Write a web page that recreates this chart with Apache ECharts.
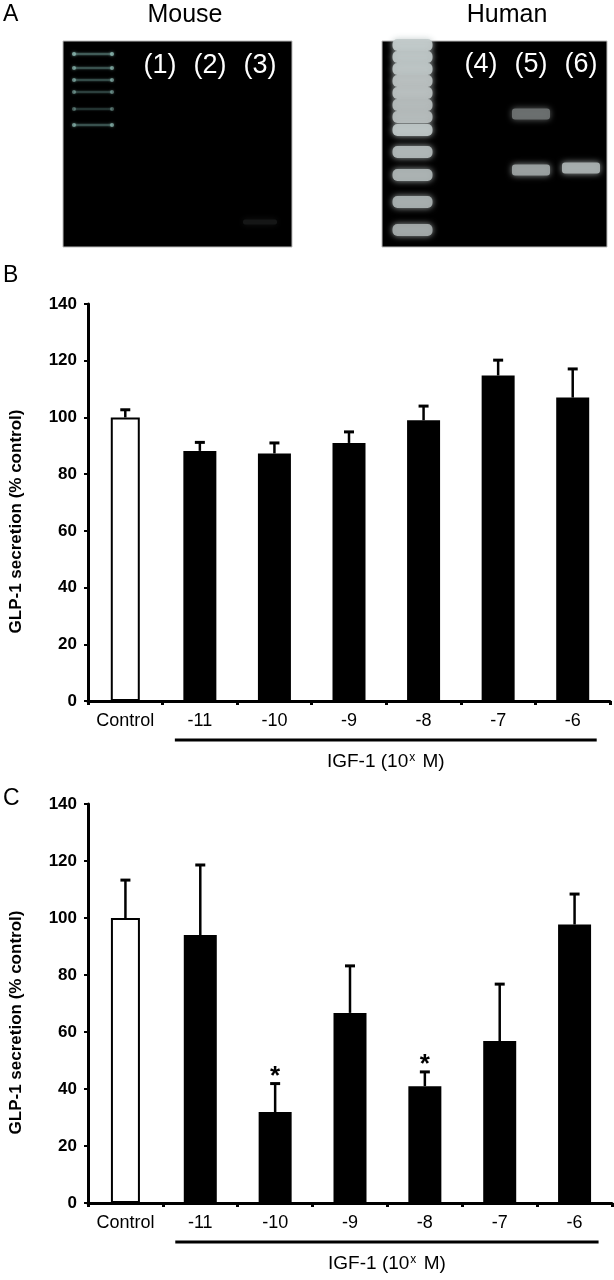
<!DOCTYPE html>
<html><head><meta charset="utf-8">
<script src="https://cdn.jsdelivr.net/npm/echarts@6/dist/echarts.min.js"></script>
<style>html,body{margin:0;padding:0;background:#fff}#c{width:614px;height:1280px}</style>
</head><body><div id="c"></div>
<script>
// ---------- data ----------
const categories = ['Control', '-11', '-10', '-9', '-8', '-7', '-6'];
const meanB = [100, 88.2, 87.3, 91.0, 99.0, 114.8, 107.0];
const errB  = [2.7, 3.0, 3.7, 3.9, 5.0, 5.4, 10.1];
const meanC = [100, 94.0, 31.9, 66.7, 41.0, 56.8, 97.7];
const errC  = [13.3, 24.6, 10.0, 16.5, 5.0, 20.0, 10.7];
const sigC  = ['', '', '*', '', '*', '', ''];
const yMin = 0, yMax = 140, yStep = 20;
const yTitle = 'GLP-1 secretion (% control)';

// gel: lane positions (lane units) and bands [lane, migration, intensity]
const mouseLaneNames = ['(1)', '(2)', '(3)'];
const mouseLanePos = [1.94, 2.94, 3.94];
const mouseLadderPos = 0.6;
const mouseLadder = [13, 27, 39, 51, 68, 84];
const mouseLadderIntensity = [0.8, 0.7, 0.65, 0.55, 0.45, 0.7];
const mouseSamples = [[3.94, 181, 0.1]];
const humanLaneNames = ['(4)', '(5)', '(6)'];
const humanLanePos = [1.98, 2.98, 3.98];
const humanLadderPos = 0.61;
const humanLadder = [4, 16, 28, 40, 52, 64, 76, 89, 111, 134, 161, 189];
const humanLadderIntensity = [0.9, 0.88, 0.88, 0.86, 0.86, 0.84, 0.84, 0.88, 0.82, 0.8, 0.78, 0.76];
const humanSamples = [[2.98, 73, 0.5], [2.98, 129, 0.72], [3.98, 127, 0.78]];

const FONT = "'Liberation Sans', Arial, sans-serif";

const chart = echarts.init(document.getElementById('c'), null, {renderer: 'canvas'});

function grey(inten, tint) {
  const g = Math.round(215 * inten);
  return 'rgb(' + g + ',' + Math.min(255, Math.round(g * tint)) + ',' + Math.min(255, Math.round(g * tint)) + ')';
}
function gelBands(kind) {
  return function (params, api) {
    const c = api.coord([api.value(0), api.value(1)]);
    const inten = api.value(2);
    if (kind === 'mouseLadder') {
      const w = 38, h = 2.5;
      const col = 'rgba(95,135,130,' + (0.75 * inten) + ')';
      const dot = 'rgba(140,185,178,' + inten + ')';
      return {type: 'group', children: [
        {type: 'rect', shape: {x: c[0] - w / 2, y: c[1] - h / 2, width: w, height: h},
          style: {fill: col, shadowBlur: 3, shadowColor: col}},
        {type: 'circle', shape: {cx: c[0] - w / 2, cy: c[1], r: 2}, style: {fill: dot, shadowBlur: 3, shadowColor: dot}},
        {type: 'circle', shape: {cx: c[0] + w / 2, cy: c[1], r: 2}, style: {fill: dot, shadowBlur: 3, shadowColor: dot}}
      ]};
    }
    let w, h, r;
    if (kind === 'humanLadder') { w = 40; h = 12; r = 5; }
    else if (kind === 'mouseSample') { w = 34; h = 5; r = 2; }
    else { w = 38; h = 11; r = 3; }
    const col = grey(inten, 1.04);
    return {type: 'rect', shape: {x: c[0] - w / 2, y: c[1] - h / 2, width: w, height: h, r: r},
      style: {fill: col, shadowBlur: 6, shadowColor: col, opacity: 0.95}};
  };
}
function laneLabels(params, api) {
  const c = api.coord([api.value(0), api.value(1)]);
  return {type: 'text', x: c[0], y: c[1], style: {text: api.value(2), fill: '#fff',
    font: '27px ' + FONT, align: 'center', verticalAlign: 'middle'}};
}
function errBars(sig) {
  return function (params, api) {
    const i = api.value(0), m = api.value(1), e = api.value(2);
    const p0 = api.coord([i, m]);
    const p1 = api.coord([i, m + e]);
    const ch = [
      {type: 'line', shape: {x1: p0[0], y1: p0[1], x2: p1[0], y2: p1[1]}, style: {stroke: '#000', lineWidth: 2.5}},
      {type: 'line', shape: {x1: p1[0] - 5, y1: p1[1], x2: p1[0] + 5, y2: p1[1]}, style: {stroke: '#000', lineWidth: 3}}
    ];
    if (sig && sig[i]) {
      ch.push({type: 'text', x: p1[0], y: p1[1] - 7, style: {text: sig[i], fill: '#000',
        font: 'bold 26px ' + FONT, align: 'center', verticalAlign: 'middle'}});
    }
    return {type: 'group', children: ch};
  };
}

const gelGrid = {show: true, backgroundColor: '#000', borderColor: '#bbb', borderWidth: 1};
function gelX(idx, max) { return {type: 'value', gridIndex: idx, min: 0, max: max, show: false}; }
function gelY(idx) { return {type: 'value', gridIndex: idx, min: 0, max: 206, inverse: true, show: false}; }

function catAxis(gridIndex, show) {
  return {
    type: 'category', gridIndex: gridIndex, data: categories, show: show,
    axisLine: {lineStyle: {color: '#000', width: 3}},
    axisTick: {show: true, length: 4, lineStyle: {color: '#000', width: 3}},
    axisLabel: {color: '#000', fontSize: 18, fontFamily: FONT, margin: 11, interval: 0}
  };
}
function valAxis(gridIndex) {
  return {
    type: 'value', gridIndex: gridIndex, min: yMin, max: yMax, interval: yStep,
    splitLine: {show: false},
    axisLine: {show: true, lineStyle: {color: '#000', width: 3}},
    axisTick: {show: true, length: 4, lineStyle: {color: '#000', width: 2}},
    axisLabel: {color: '#000', fontSize: 17, fontWeight: 'bold', fontFamily: FONT, margin: 11},
    name: yTitle, nameLocation: 'middle', nameGap: 63,
    nameTextStyle: {color: '#000', fontSize: 17, fontWeight: 'bold', fontFamily: FONT, padding: [0, 38, 0, 0]}
  };
}
const ctrlOnly = arr => arr.map((v, i) => i === 0 ? v : '-');
const igfOnly = arr => arr.map((v, i) => i === 0 ? '-' : v);
const errData = (m, e) => m.map((v, i) => [i, v, e[i]]);

const option = {
  animation: false,
  grid: [
    Object.assign({left: 63, top: 41, width: 229, height: 206}, gelGrid),
    Object.assign({left: 382, top: 41, width: 225, height: 206}, gelGrid),
    {left: 82, right: 4, top: 304, height: 397},
    {left: 82, right: 2, top: 804, height: 399}
  ],
  xAxis: [
    gelX(0, 4.58), gelX(1, 4.5),
    catAxis(2, true), catAxis(2, false),
    catAxis(3, true), catAxis(3, false)
  ],
  yAxis: [gelY(0), gelY(1), valAxis(2), valAxis(3)],
  series: [
    {type: 'custom', xAxisIndex: 0, yAxisIndex: 0, renderItem: gelBands('mouseLadder'),
      data: mouseLadder.map((y, i) => [mouseLadderPos, y, mouseLadderIntensity[i]])},
    {type: 'custom', xAxisIndex: 0, yAxisIndex: 0, renderItem: gelBands('mouseSample'), data: mouseSamples},
    {type: 'custom', xAxisIndex: 0, yAxisIndex: 0, renderItem: laneLabels,
      data: mouseLaneNames.map((n, i) => [mouseLanePos[i], 25, n])},
    {type: 'custom', xAxisIndex: 1, yAxisIndex: 1, renderItem: gelBands('humanLadder'),
      data: humanLadder.map((y, i) => [humanLadderPos, y, humanLadderIntensity[i]])},
    {type: 'custom', xAxisIndex: 1, yAxisIndex: 1, renderItem: gelBands('humanSample'), data: humanSamples},
    {type: 'custom', xAxisIndex: 1, yAxisIndex: 1, renderItem: laneLabels,
      data: humanLaneNames.map((n, i) => [humanLanePos[i], 24, n])},

    {type: 'bar', xAxisIndex: 3, yAxisIndex: 2, data: ctrlOnly(meanB), barWidth: 29,
      itemStyle: {color: '#fff', borderColor: '#000', borderWidth: 2}},
    {type: 'bar', xAxisIndex: 2, yAxisIndex: 2, data: igfOnly(meanB), barWidth: 33, itemStyle: {color: '#000'}},
    {type: 'custom', xAxisIndex: 2, yAxisIndex: 2, renderItem: errBars(null), data: errData(meanB, errB), z: 5},

    {type: 'bar', xAxisIndex: 5, yAxisIndex: 3, data: ctrlOnly(meanC), barWidth: 29,
      itemStyle: {color: '#fff', borderColor: '#000', borderWidth: 2}},
    {type: 'bar', xAxisIndex: 4, yAxisIndex: 3, data: igfOnly(meanC), barWidth: 33, itemStyle: {color: '#000'}},
    {type: 'custom', xAxisIndex: 4, yAxisIndex: 3, renderItem: errBars(sigC), data: errData(meanC, errC), z: 5}
  ]
};
chart.setOption(option);

// annotations: panel letters, gel titles, IGF-1 brackets
function bracket(xAxisIndex, yAxisIndex) {
  const x1 = chart.convertToPixel({xAxisIndex: xAxisIndex}, categories[1]) - 25;
  const x2 = chart.convertToPixel({xAxisIndex: xAxisIndex}, categories[categories.length - 1]) + 24;
  const y0 = chart.convertToPixel({yAxisIndex: yAxisIndex}, 0);
  return [
    {type: 'line', shape: {x1: x1, y1: y0 + 39, x2: x2, y2: y0 + 39}, style: {stroke: '#000', lineWidth: 3}},
    {type: 'text', x: (x1 + x2) / 2, y: y0 + 61, style: {
      text: '{a|IGF-1 (10}{s|x}{a| M)}', align: 'center', verticalAlign: 'middle',
      rich: {a: {fontSize: 19, fontFamily: FONT, fill: '#000'},
             s: {fontSize: 12, fontFamily: FONT, fill: '#000', verticalAlign: 'top', padding: [0, 2, 8, 1]}}}}
  ];
}
const letter = (t, y) => ({type: 'text', x: 3, y: y, style: {text: t, font: '23px ' + FONT, fill: '#000', verticalAlign: 'top'}});
chart.setOption({graphic: [
  letter('A', 3), letter('B', 264), letter('C', 787),
  {type: 'text', x: 185, y: 15, style: {text: 'Mouse', font: '25px ' + FONT, fill: '#000', align: 'center', verticalAlign: 'middle'}},
  {type: 'text', x: 507, y: 15, style: {text: 'Human', font: '25px ' + FONT, fill: '#000', align: 'center', verticalAlign: 'middle'}}
].concat(bracket(2, 2), bracket(4, 3))});
</script></body></html>
